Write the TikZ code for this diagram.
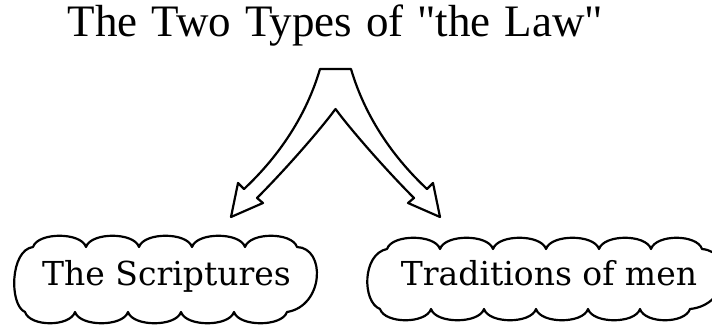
\documentclass[tikz,border=0pt]{standalone}
\usepackage{fontspec}
\newfontfamily\titlefont[WordSpace=1.25]{Liberation Serif}
\newfontfamily\cloudfont{DejaVu Serif}
\begin{document}
\begin{tikzpicture}[x=1pt,y=-1pt,
  outline/.style={draw=black,line width=2.2pt,line join=round,line cap=round},
  titletext/.style={font=\titlefont\fontsize{45}{54}\selectfont,inner sep=0pt,anchor=base},
  cloudtext/.style={font=\cloudfont\fontsize{33}{40}\selectfont,inner sep=0pt,anchor=base}]
\useasboundingbox (0,0) rectangle (712,326);
% title
\node[titletext] (title) at (335.5,37) {The Two Types of "the Law"};
% split block arrow
\draw[outline] (320,69) -- (351,69)
  .. controls (366,120) and (396,160) .. (427,189)
  -- (433,183) -- (440,217) -- (408,203) -- (414,198)
  .. controls (386,170) and (351,130) .. (335.5,109)
  .. controls (320,130) and (285,170) .. (257,198)
  -- (263,203) -- (231,217) -- (238,183) -- (244,189)
  .. controls (275,160) and (305,120) .. (320,69) -- cycle;
% left cloud
\draw[outline] (33,247)
  foreach \a/\b in {33/86,86/139,139/192,192/245,245/297}
    { .. controls ({\a+5},232) and ({\b-5},232) .. (\b,247) }
  .. controls (326,248) and (324,306) .. (287,312)
  foreach \a/\b in {287/234,234/181,181/128,128/75,75/25}
    { .. controls ({\a-5},327) and ({\b+5},327) .. (\b,312) }
  .. controls (9,305) and (10,250) .. (33,247) -- cycle;
% right cloud
\draw[outline] (387,249)
  foreach \a/\b in {387/440,440/493,493/546,546/599,599/651,651/702}
    { .. controls ({\a+5},234) and ({\b-5},234) .. (\b,249) }
  .. controls (735,252) and (730,305) .. (690,309)
  foreach \a/\b in {690/640,640/588,588/536,536/484,484/431,431/380}
    { .. controls ({\a-5},324) and ({\b+5},324) .. (\b,309) }
  .. controls (362,302) and (362,254) .. (387,249) -- cycle;
% cloud texts
\node[cloudtext] (scriptures) at (166.5,285) {The Scriptures};
\node[cloudtext] (traditions) at (549,285) {Traditions of men};
\end{tikzpicture}
\end{document}
